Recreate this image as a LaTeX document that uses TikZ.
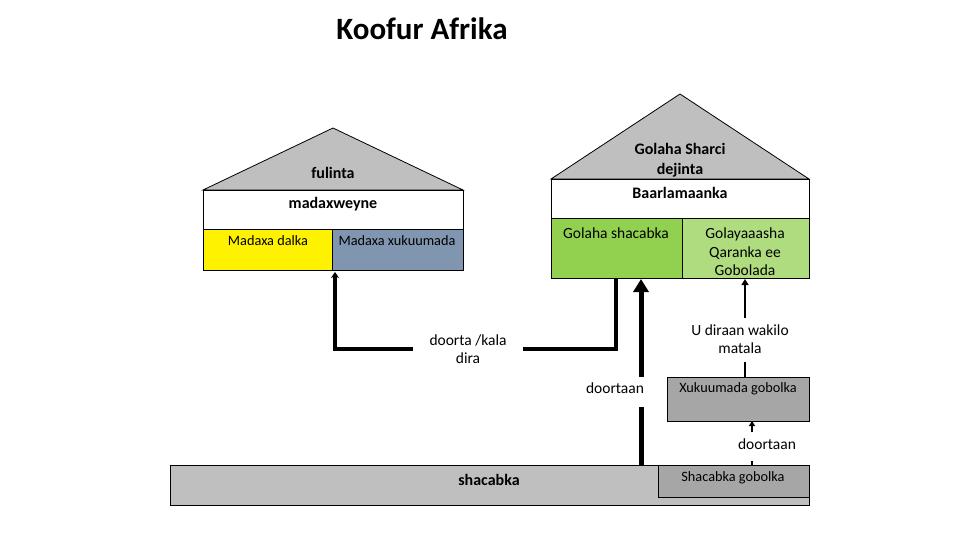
\documentclass[tikz,border=0pt]{standalone}
\usepackage{fontspec}
\setmainfont{Carlito}
\usetikzlibrary{arrows.meta}
\begin{document}
\begin{tikzpicture}[x=1pt,y=-1pt,
  box/.style={draw=black,line width=0.8pt},
  lbl/.style={font=\fontsize{15.5}{18.5}\selectfont,align=center,inner sep=0pt},
  slbl/.style={font=\fontsize{14.3}{17}\selectfont,align=center,inner sep=0pt},
  blbl/.style={font=\fontsize{16}{19.5}\selectfont\bfseries,align=center,inner sep=0pt},
  thick line/.style={line width=4pt},
  thin line/.style={line width=1.6pt}]
\useasboundingbox (0,0) rectangle (960,540);
\node[inner sep=0pt,font=\fontsize{31}{35}\selectfont\bfseries] (title) at (422,29) {Koofur Afrika};
% left house
\draw[box,fill=black!25] (203,190) -- (333,128) -- (463,190) -- cycle;
\node[blbl] (fulinta) at (333,173) {fulinta};
\draw[box,fill=white] (203,190) rectangle (463,229);
\node[blbl] (madax) at (333,204) {madaxweyne};
\draw[box,fill=yellow] (203,229) rectangle (332,270);
\node[slbl] (dalka) at (268,241) {Madaxa dalka};
\draw[box,fill={rgb,255:red,128;green,150;blue,176}] (332,229) rectangle (463,270);
\coordinate (xukbot) at (335,272);
\node[slbl] (xuk) at (397,241) {Madaxa xukuumada};
% right house
\draw[box,fill=black!25] (551,179) -- (680,94) -- (809,179) -- cycle;
\node[blbl] (sharci) at (680,160) {Golaha Sharci\\dejinta};
\draw[box,fill=white] (551,179) rectangle (809,218);
\node[blbl] (baar) at (680,193) {Baarlamaanka};
\draw[box,fill={rgb,255:red,146;green,208;blue,80}] (551,218) rectangle (682,278);
\node[lbl] (gshac) at (616,233) {Golaha shacabka};
\draw[box,fill={rgb,255:red,176;green,220;blue,128}] (682,218) rectangle (809,278);
\node[lbl] (golay) at (745,252) {Golayaaasha\\Qaranka ee\\Gobolada};
% bottom bar
\draw[box,fill=black!25] (170,465) rectangle (809,505);
\node[blbl] (shac) at (489,480) {shacabka};
\draw[box,fill=black!35] (658,465) rectangle (809,497);
\node[slbl] (shgob) at (733,478) {Shacabka gobolka};
% Xukuumada gobolka
\draw[box,fill=black!35] (667,377) rectangle (809,421);
\node[slbl] (xgob) at (738,389) {Xukuumada gobolka};
% labels
\node[lbl] (doorta) at (468,349) {doorta /kala\\dira};
\node[lbl] (doortaan1) at (615,388) {doortaan};
\node[lbl] (udiraan) at (740,339) {U diraan wakilo\\matala};
\node[lbl] (doortaan2) at (767,444) {doortaan};
% connectors
\coordinate (a1) at (616,278);
\coordinate (a2) at (616,349);
\coordinate (a3) at (523,349);
\coordinate (a4) at (413,349);
\coordinate (a5) at (335,349);
\draw[thick line] (a1) -- (a2) -- (a3);
\draw[thick line,-{Stealth[length=6pt,width=8pt]}] (a4) -- (a5) -- (xukbot);
\coordinate (b0) at (641,465);
\coordinate (b1) at (641,407);
\coordinate (b2) at (641,377);
\coordinate (b3) at (641,279);
\draw[line width=5pt] (b0) -- (b1);
\draw[line width=5pt,-{Triangle[length=13pt,width=15pt]}] (b2) -- (b3);
\coordinate (c0) at (745,377);
\coordinate (c1) at (745,362);
\coordinate (c2) at (745,318);
\coordinate (c3) at (745,279);
\draw[thin line] (c0) -- (c1);
\draw[thin line,-{Triangle[length=6pt,width=7pt]}] (c2) -- (c3);
\coordinate (d0) at (752,465);
\coordinate (d1) at (752,461);
\coordinate (d2) at (752,432);
\coordinate (d3) at (752,421);
\draw[thin line] (d0) -- (d1);
\draw[thin line,-{Triangle[length=5pt,width=6pt]}] (d2) -- (d3);
\end{tikzpicture}
\end{document}
